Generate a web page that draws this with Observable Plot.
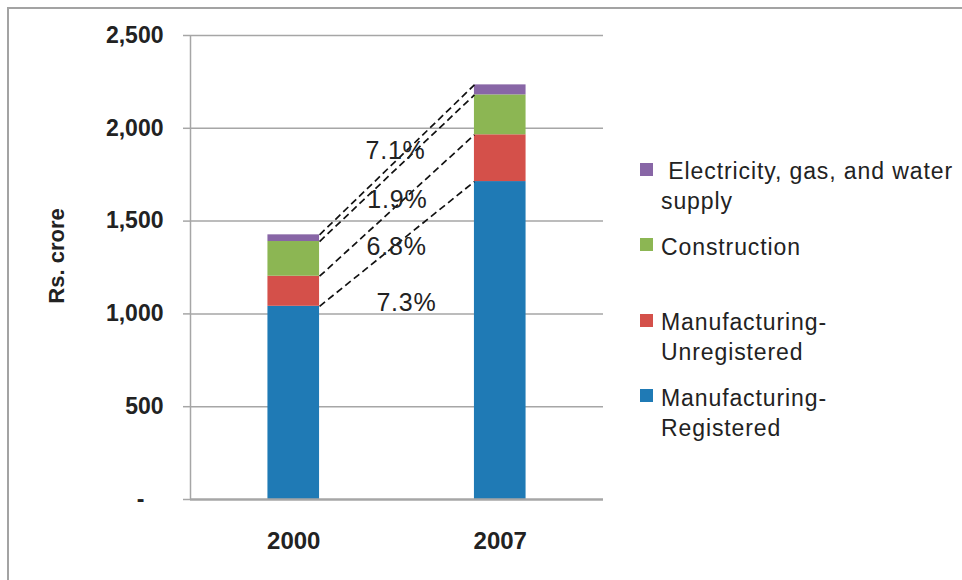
<!DOCTYPE html>
<html>
<head>
<meta charset="utf-8">
<script src="https://cdn.jsdelivr.net/npm/d3@7"></script>
<script src="https://cdn.jsdelivr.net/npm/@observablehq/plot@0.6"></script>
<style>
  html, body { margin: 0; padding: 0; background: #fff; }
  #wrap { position: relative; width: 962px; height: 580px; overflow: hidden; font-family: "Liberation Sans", Arial, sans-serif; }
  #border { position: absolute; left: 7px; top: 7px; width: 1000px; height: 1000px; border-left: 2px solid #a3a3a3; border-top: 2px solid #a3a3a3; }
  #chart { position: absolute; left: 0; top: 0; }
  #ytitle { position: absolute; left: 57px; top: 256px; transform: translate(-50%, -50%) rotate(-90deg); font-weight: bold; font-size: 22px; color: #222; white-space: nowrap; }
  .leg { position: absolute; left: 640px; font-size: 23px; line-height: 30px; color: #222; letter-spacing: 0.9px; }
  .leg .sw { position: absolute; left: 0; top: 6.5px; width: 13px; height: 13px; }
  .leg .tx { position: absolute; left: 21px; top: 0; white-space: nowrap; }
</style>
</head>
<body>
<div id="wrap">
  <div id="border"></div>
  <div id="chart"></div>
  <div id="ytitle">Rs. crore</div>
  <div id="legend"></div>
</div>
<script>
// ---- data ----
const years = ["2000", "2007"];
const sectors = ["Manufacturing-Registered", "Manufacturing-Unregistered", "Construction", "Electricity, gas, and water supply"];
const values2000 = [1041, 162, 187, 36];
const values2007 = [1713, 252, 215, 54];
const growthLabels = ["7.3%", "6.8%", "1.9%", "7.1%"];
const yTicks = [0, 500, 1000, 1500, 2000, 2500];
const colors = ["#1f7ab5", "#d4504a", "#8cb653", "#8866a6"];
const legendLines = [[" Electricity, gas, and water", "supply"], ["Construction"], ["Manufacturing-", "Unregistered"], ["Manufacturing-", "Registered"]];

// ---- build table ----
const halfBar = 0.125;
const rows = [];
[values2000, values2007].forEach((vals, yi) => {
  let acc = 0;
  vals.forEach((v, si) => {
    rows.push({year: years[yi], yi, sector: sectors[si], si, y1: acc, y2: acc + v});
    acc += v;
  });
});
const links = sectors.map((s, si) => {
  const a = rows.find(r => r.yi === 0 && r.si === si);
  const b = rows.find(r => r.yi === 1 && r.si === si);
  return {si, x1: 0.5 + halfBar, y1: a.y2, x2: 1.5 - halfBar, y2: b.y2};
});
// annotation placement for growth-rate labels (x in band units, y in Rs. crore)
const labelPlace = [[1.046, 1061], [0.998, 1363], [1.002, 1616], [0.993, 1880]];
const growth = growthLabels.map((t, i) => ({text: t, x: labelPlace[i][0], y: labelPlace[i][1]}));

const chart = Plot.plot({
  width: 962,
  height: 580,
  marginLeft: 190,
  marginRight: 359,
  marginTop: 35,
  marginBottom: 81,
  style: {fontFamily: "'Liberation Sans', Arial, sans-serif", background: "transparent", color: "#222"},
  x: {domain: [0, 2], axis: null},
  y: {domain: [0, 2500], axis: null},
  marks: [
    Plot.gridY(yTicks.filter(d => d > 0), {stroke: "#a6a6a6", strokeOpacity: 1, strokeWidth: 1.5}),
    Plot.ruleX([0], {stroke: "#a6a6a6", strokeWidth: 1.5}),
    Plot.axisY(yTicks, {
      tickSize: 7, tickPadding: 20, stroke: "#a6a6a6", strokeWidth: 1.5,
      fontSize: 23, fontWeight: "bold", fill: "#222",
      tickFormat: d => d === 0 ? "-\u00a0\u00a0\u00a0" : d3.format(",")(d)
    }),
    Plot.axisX([0.5, 1.5], {
      tickSize: 0, tickPadding: 32, fontSize: 24, fontWeight: "bold", fill: "#222",
      tickFormat: d => years[Math.floor(d)], label: null
    }),
    Plot.rectY(rows, {
      x1: r => r.yi + 0.5 - halfBar, x2: r => r.yi + 0.5 + halfBar,
      y1: "y1", y2: "y2",
      fill: r => colors[r.si]
    }),
    Plot.ruleY([0], {stroke: "#a6a6a6", strokeWidth: 2.5}),
    Plot.link(links, {x1: "x1", y1: "y1", x2: "x2", y2: "y2", stroke: "#111", strokeWidth: 1.7, strokeDasharray: "7,4"}),
    Plot.text(growth, {x: "x", y: "y", text: "text", fontSize: 25, fill: "#222", textAnchor: "middle", lineAnchor: "middle"})
  ]
});
d3.select(chart).selectAll('g[aria-label="text"] text').attr("letter-spacing", "0.8px");
document.getElementById("chart").appendChild(chart);

// ---- legend ----
const legendTops = [156, 231.5, 307, 382.5];
const legOrder = [3, 2, 1, 0];
const legend = document.getElementById("legend");
legOrder.forEach((si, k) => {
  const item = document.createElement("div");
  item.className = "leg";
  item.style.top = legendTops[k] + "px";
  const sw = document.createElement("div");
  sw.className = "sw";
  sw.style.background = colors[si];
  const tx = document.createElement("div");
  tx.className = "tx";
  tx.innerHTML = legendLines[k].map(l => l.replace(/^ /, "&nbsp;")).join("<br>");
  item.appendChild(sw);
  item.appendChild(tx);
  legend.appendChild(item);
});
</script>
</body>
</html>
